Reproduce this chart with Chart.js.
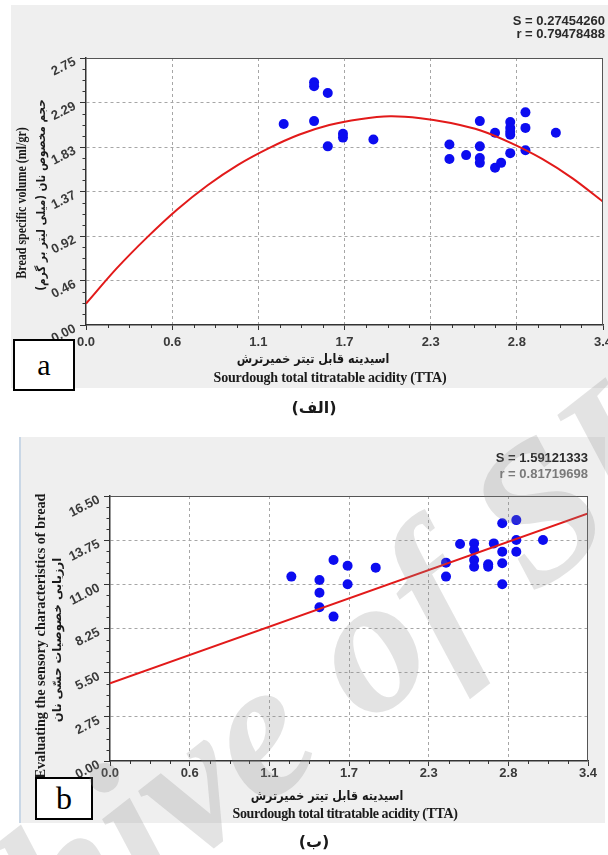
<!DOCTYPE html>
<html><head><meta charset="utf-8">
<script src="https://cdn.jsdelivr.net/npm/chart.js@4.4.1/dist/chart.umd.min.js"></script>
<style>
html,body{margin:0;padding:0}
body{width:608px;height:855px;position:relative;overflow:hidden;background:#fff}
.abs{position:absolute;white-space:nowrap;line-height:1}
.ctr{transform:translate(-50%,-50%)}
.serif{font-family:"Liberation Serif","Times New Roman",serif;font-weight:bold;color:#1a1a1a}
.fa{font-family:"DejaVu Sans",sans-serif;font-weight:bold;color:#1a1a1a}
.stat{font-family:"Liberation Sans",Arial,sans-serif;font-weight:bold;font-size:13px;color:#2a2a2a}
.box{position:absolute;background:#fff;border:2px solid #000;box-sizing:border-box;display:flex;align-items:center;justify-content:center;font-family:"Liberation Serif",serif;color:#000}
canvas{position:absolute;left:0}
</style></head><body>
<div class="abs" style="left:11px;top:5px;width:597px;height:383px;background:#efefef"></div>
<div class="abs" style="left:19px;top:437px;width:584px;height:386px;background:#efefef;border-left:2px solid #c9d7e6"></div>
<canvas id="cA" width="608" height="400" style="top:0"></canvas>
<canvas id="cB" width="608" height="435" style="top:420px"></canvas>

<div class="abs stat" style="right:3px;top:14px">S = 0.27454260</div>
<div class="abs stat" style="right:3px;top:27px">r = 0.79478488</div>
<div class="abs fa" dir="rtl" style="left:313px;top:358px;font-size:13px;transform:translate(-50%,-50%) scaleX(0.86)">اسیدیته قابل تیتر خمیرترش</div>
<div class="abs ctr serif" style="left:330px;top:378px;font-size:14px;letter-spacing:-0.2px">Sourdough total titratable acidity (TTA)</div>
<div class="abs serif" style="left:21px;top:203px;font-size:15px;transform:translate(-50%,-50%) rotate(-90deg) scaleX(0.8)">Bread specific volume (ml/gr)</div>
<div class="abs fa" dir="rtl" style="left:41px;top:195px;font-size:12px;transform:translate(-50%,-50%) rotate(-90deg) scaleX(0.87)">حجم مخصوص نان (میلی لیتر بر گرم)</div>
<div class="box" style="left:13px;top:339px;width:62px;height:52px;font-size:30px">a</div>
<div class="abs ctr fa" dir="rtl" style="left:314px;top:408px;font-size:16px">(الف)</div>

<div class="abs stat" style="right:20px;top:451px">S = 1.59121333</div>
<div class="abs stat" style="right:20px;top:467px;color:#7a7a7a">r = 0.81719698</div>
<div class="abs fa" dir="rtl" style="left:327px;top:795px;font-size:13px;transform:translate(-50%,-50%) scaleX(0.86)">اسیدیته قابل تیتر خمیرترش</div>
<div class="abs ctr serif" style="left:345px;top:814px;font-size:14px;letter-spacing:-0.4px">Sourdough total titratable acidity (TTA)</div>
<div class="abs serif" style="left:40px;top:636px;font-size:15px;transform:translate(-50%,-50%) rotate(-90deg) scaleX(0.95)">Evaluating the sensory characteristics of bread</div>
<div class="abs fa" dir="rtl" style="left:57px;top:640px;font-size:12px;transform:translate(-50%,-50%) rotate(-90deg) scaleX(0.97)">ارزیابی خصوصیات حسّی نان</div>
<div class="box" style="left:35px;top:777px;width:58px;height:43px;font-size:32px">b</div>
<div class="abs ctr fa" dir="rtl" style="left:314px;top:842px;font-size:16px">(ب)</div>

<canvas id="wm" width="608" height="855" style="top:0;pointer-events:none"></canvas>

<script>
// ---------- data ----------
const X_MAX = 3.4;
const Y_MAX_A = 2.75;
const Y_MAX_B = 16.5;
const xTickLabels = ['0.0','0.6','1.1','1.7','2.3','2.8','3.4'];
const yTickLabelsA = ['0.00','0.46','0.92','1.37','1.83','2.29','2.75'];
const yTickLabelsB = ['0.00','2.75','5.50','8.25','11.00','13.75','16.50'];

// panel a: bread specific volume vs TTA
const xA = [1.30,1.50,1.50,1.59,1.50,1.59,1.69,1.69,1.89,2.39,2.39,2.50,2.59,2.59,2.59,2.59,2.69,2.69,2.73,2.79,2.79,2.79,2.79,2.79,2.89,2.89,2.89,3.09];
const yA = [2.07,2.50,2.46,2.39,2.10,1.84,1.97,1.93,1.91,1.86,1.71,1.75,2.10,1.84,1.72,1.67,1.98,1.62,1.67,2.09,2.03,1.99,1.96,1.77,2.19,2.03,1.80,1.98];
const fitXA = [0,0.2,0.4,0.6,0.8,1.0,1.2,1.4,1.6,1.8,2.0,2.2,2.4,2.6,2.8,3.0,3.2,3.4];
const fitYA = [0.22,0.58,0.90,1.19,1.44,1.65,1.82,1.96,2.06,2.12,2.15,2.13,2.08,2.00,1.87,1.71,1.51,1.27];

// panel b: sensory evaluation vs TTA
const xB = [1.29,1.49,1.49,1.49,1.59,1.59,1.69,1.69,1.89,2.39,2.39,2.49,2.59,2.59,2.59,2.59,2.69,2.69,2.73,2.79,2.79,2.79,2.79,2.89,2.89,2.89,3.08];
const yB = [11.48,11.27,10.48,9.57,12.52,8.99,12.16,11.00,12.04,12.35,11.48,13.51,13.55,13.14,12.52,12.10,12.25,12.10,13.55,14.80,13.03,12.31,11.00,15.00,13.76,13.03,13.76];
const fitXB = [0, 3.4];
const fitYB = [4.84, 15.42];

// ---------- helpers ----------
const pts = (xs, ys) => xs.map((x, i) => ({x, y: ys[i]}));

const frameAndMinor = {
  id: 'frameAndMinor',
  beforeDraw(chart) {
    const {ctx, chartArea: a} = chart;
    ctx.save();
    ctx.fillStyle = '#ffffff';
    ctx.fillRect(a.left, a.top, a.right - a.left, a.bottom - a.top);
    ctx.restore();
  },
  afterDraw(chart, args, o) {
    const {ctx, chartArea: a, scales: {x, y}} = chart;
    ctx.save();
    ctx.strokeStyle = '#333';
    ctx.lineWidth = 1;
    ctx.beginPath();
    const nx = (o.xLabels.length - 1) * o.sub, ny = (o.yLabels.length - 1) * o.sub;
    for (let i = 0; i <= nx; i++) {
      if (i % o.sub === 0) continue;
      const px = Math.round(x.getPixelForValue(i * o.xMax / nx)) + 0.5;
      ctx.moveTo(px, a.bottom); ctx.lineTo(px, a.bottom + 3);
    }
    for (let i = 0; i <= ny; i++) {
      if (i % o.sub === 0) continue;
      const py = Math.round(y.getPixelForValue(i * o.yMax / ny)) + 0.5;
      ctx.moveTo(a.left - 3.5, py); ctx.lineTo(a.left, py);
    }
    ctx.stroke();
    // top and right frame
    ctx.strokeStyle = '#555';
    ctx.beginPath();
    ctx.moveTo(a.left, Math.round(a.top) + 0.5); ctx.lineTo(a.right, Math.round(a.top) + 0.5);
    ctx.moveTo(Math.round(a.right) - 0.5, a.top); ctx.lineTo(Math.round(a.right) - 0.5, a.bottom);
    ctx.stroke();
    // slanted y tick labels
    ctx.fillStyle = '#3a3a3a';
    ctx.font = 'bold 13px "Liberation Sans", Arial, sans-serif';
    ctx.textAlign = 'right';
    ctx.textBaseline = 'middle';
    const n = o.yLabels.length - 1;
    o.yLabels.forEach((lab, i) => {
      const py = y.getPixelForValue(i * o.yMax / n);
      ctx.save();
      ctx.translate(a.left - 11, py + 3);
      ctx.rotate(-27 * Math.PI / 180);
      ctx.fillText(lab, 0, 0);
      ctx.restore();
    });
    ctx.restore();
  }
};

function makeChart(id, d) {
  const tickFont = {family: '"Liberation Sans", Arial, sans-serif', size: 13, weight: 'bold'};
  const gridColor = (n) => (c) => (c.index > 0 && c.index < n - 1) ? '#a6a6a6' : 'rgba(0,0,0,0)';
  return new Chart(document.getElementById(id), {
    type: 'scatter',
    data: {
      datasets: [
        {
          data: pts(d.fitX, d.fitY),
          showLine: true, fill: false,
          borderColor: '#e21a1a', borderWidth: 2,
          pointRadius: 0, tension: d.tension
        },
        {
          data: pts(d.x, d.y),
          showLine: false,
          pointRadius: 5, pointHoverRadius: 5,
          backgroundColor: '#0c0cf0', borderColor: '#0c0cf0', borderWidth: 0
        }
      ]
    },
    options: {
      responsive: false, animation: false, devicePixelRatio: 1,
      layout: {padding: d.padding},
      plugins: {legend: {display: false}, tooltip: {enabled: false},
        frameAndMinor: {sub: 4, xMax: X_MAX, yMax: d.yMax, xLabels: xTickLabels, yLabels: d.yLabels}},
      scales: {
        x: {
          type: 'linear', min: 0, max: X_MAX,
          afterBuildTicks: (s) => { s.ticks = xTickLabels.map((_, i) => ({value: i * X_MAX / (xTickLabels.length - 1)})); },
          afterFit: (s) => { s.height = d.xAxisH; s.paddingLeft = 0; s.paddingRight = 0; },
          ticks: {callback: (v, i) => xTickLabels[i], font: tickFont, color: '#3a3a3a', maxRotation: 0, minRotation: 0, padding: d.xPad, autoSkip: false},
          grid: {color: gridColor(xTickLabels.length), lineWidth: 1, tickColor: '#333', tickLength: 5, drawTicks: true},
          border: {display: true, color: '#333', width: 1.5, dash: [3, 3]}
        },
        y: {
          type: 'linear', min: 0, max: d.yMax,
          afterBuildTicks: (s) => { s.ticks = d.yLabels.map((_, i) => ({value: i * d.yMax / (d.yLabels.length - 1)})); },
          afterFit: (s) => { s.width = d.yAxisW; s.paddingTop = 0; s.paddingBottom = 0; },
          ticks: {display: false, autoSkip: false},
          grid: {color: gridColor(d.yLabels.length), lineWidth: 1, tickColor: '#333', tickLength: 6, drawTicks: true},
          border: {display: true, color: '#333', width: 1.5, dash: [3, 3]}
        }
      }
    },
    plugins: [frameAndMinor]
  });
}

makeChart('cA', {x: xA, y: yA, fitX: fitXA, fitY: fitYA, tension: 0.3, yMax: Y_MAX_A, yLabels: yTickLabelsA,
  padding: {left: 0, top: 58, right: 3, bottom: 0}, xAxisH: 75, yAxisW: 86, xPad: 5});
makeChart('cB', {x: xB, y: yB, fitX: fitXB, fitY: fitYB, tension: 0, yMax: Y_MAX_B, yLabels: yTickLabelsB,
  padding: {left: 0, top: 76, right: 20, bottom: 0}, xAxisH: 94, yAxisW: 110, xPad: 0});

// ---------- watermark ----------
(function () {
  const w = document.getElementById('wm').getContext('2d');
  const size = 196;
  w.font = 'italic bold ' + size + 'px "Liberation Serif", serif';
  const pre = w.measureText('Arch').width, wi = w.measureText('i').width;
  w.translate(142, 845);
  w.rotate(-38 * Math.PI / 180);
  w.fillStyle = 'rgba(140,140,140,0.24)';
  w.fillText('Archive of SID', -(pre + wi / 2), 0.23 * size);
})();
</script>
</body></html>
